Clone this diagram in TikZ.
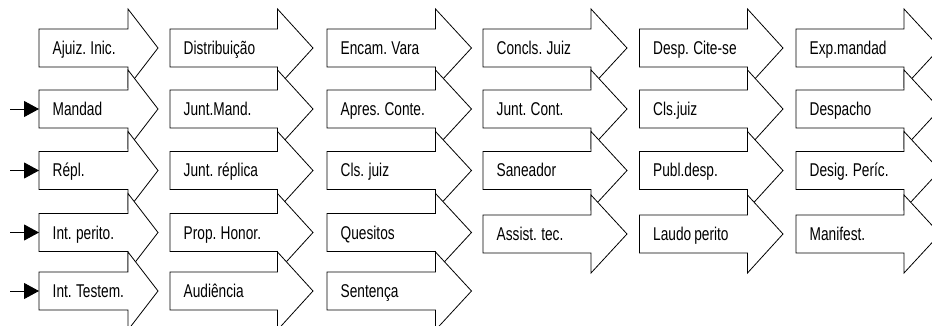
\documentclass[tikz,border=0pt]{standalone}
\usepackage{fontspec}
\setmainfont{Liberation Sans}[FakeStretch=0.74,WordSpace=0.8]
\usetikzlibrary{arrows.meta}
\tikzset{
  blk/.style={draw=black, fill=white, line width=0.8pt, line join=miter},
  lbl/.style={anchor=base west, inner sep=0pt, font=\fontsize{18.5}{20}\selectfont},
  feed/.style={-{Triangle[length=15pt,width=16pt]}, line width=0.9pt},
}
% name, left, head base, apex, centre y, text
\newcommand{\blockarr}[6]{%
  \draw[blk] (#2,#5-19) -- (#3,#5-19) -- (#3,#5-39) -- (#4,#5) -- (#3,#5+39)
     -- (#3,#5+19) -- (#2,#5+19) -- cycle;
  \coordinate (#1w) at (#2,#5);
  \node[lbl] (#1) at (#2+13.5,#5+6.5) {#6};
}
\begin{document}
\begin{tikzpicture}[x=1pt,y=-1pt]
\useasboundingbox (0,0) rectangle (932,326);
\clip (0,0) rectangle (932,326);
% row 1
\blockarr{a1}{39}{128}{158}{48}{Ajuiz. Inic.}
\blockarr{a2}{170}{277.5}{313}{48}{Distribuição}
\blockarr{a3}{327}{435.5}{471.5}{48}{Encam. Vara}
\blockarr{a4}{483}{591}{627}{48}{Concls. Juiz}
\blockarr{a5}{639.5}{747.5}{783}{48}{Desp. Cite-se}
\blockarr{a6}{796}{904}{940}{48}{Exp.mandad}
% row 2
\blockarr{b1}{39}{128}{158}{109}{Mandad}
\blockarr{b2}{170}{277.5}{313}{109}{Junt.Mand.}
\blockarr{b3}{327}{435.5}{471.5}{109}{Apres. Conte.}
\blockarr{b4}{483}{591}{627}{109}{Junt. Cont.}
\blockarr{b5}{639.5}{747.5}{783}{109}{Cls.juiz}
\blockarr{b6}{796}{904}{940}{109}{Despacho}
% row 3
\blockarr{c1}{39}{128}{158}{170.5}{Répl.}
\blockarr{c2}{170}{277.5}{313}{170.5}{Junt. réplica}
\blockarr{c3}{327}{435.5}{471.5}{170.5}{Cls. juiz}
\blockarr{c4}{483}{591}{627}{170.5}{Saneador}
\blockarr{c5}{639.5}{747.5}{783}{170.5}{Publ.desp.}
\blockarr{c6}{796}{904}{940}{170.5}{Desig. Períc.}
% row 4
\blockarr{d1}{39}{128}{158}{232.5}{Int. perito.}
\blockarr{d2}{170}{277.5}{313}{232.5}{Prop. Honor.}
\blockarr{d3}{327}{435.5}{471.5}{232.5}{Quesitos}
\blockarr{d4}{483}{591}{627}{234}{Assist. tec.}
\blockarr{d5}{639.5}{747.5}{783}{234}{Laudo perito}
\blockarr{d6}{796}{904}{940}{234}{Manifest.}
% row 5
\blockarr{e1}{39}{128}{158}{291}{Int. Testem.}
\blockarr{e2}{170}{277.5}{313}{291}{Audiência}
\blockarr{e3}{327}{435.5}{471.5}{291}{Sentença}
% feed arrows
\coordinate (sb) at (10,109);
\coordinate (sc) at (10,170.5);
\coordinate (sd) at (10,232.5);
\coordinate (se) at (10,291);
\draw[feed] (sb) -- (b1w);
\draw[feed] (sc) -- (c1w);
\draw[feed] (sd) -- (d1w);
\draw[feed] (se) -- (e1w);
\end{tikzpicture}
\end{document}
